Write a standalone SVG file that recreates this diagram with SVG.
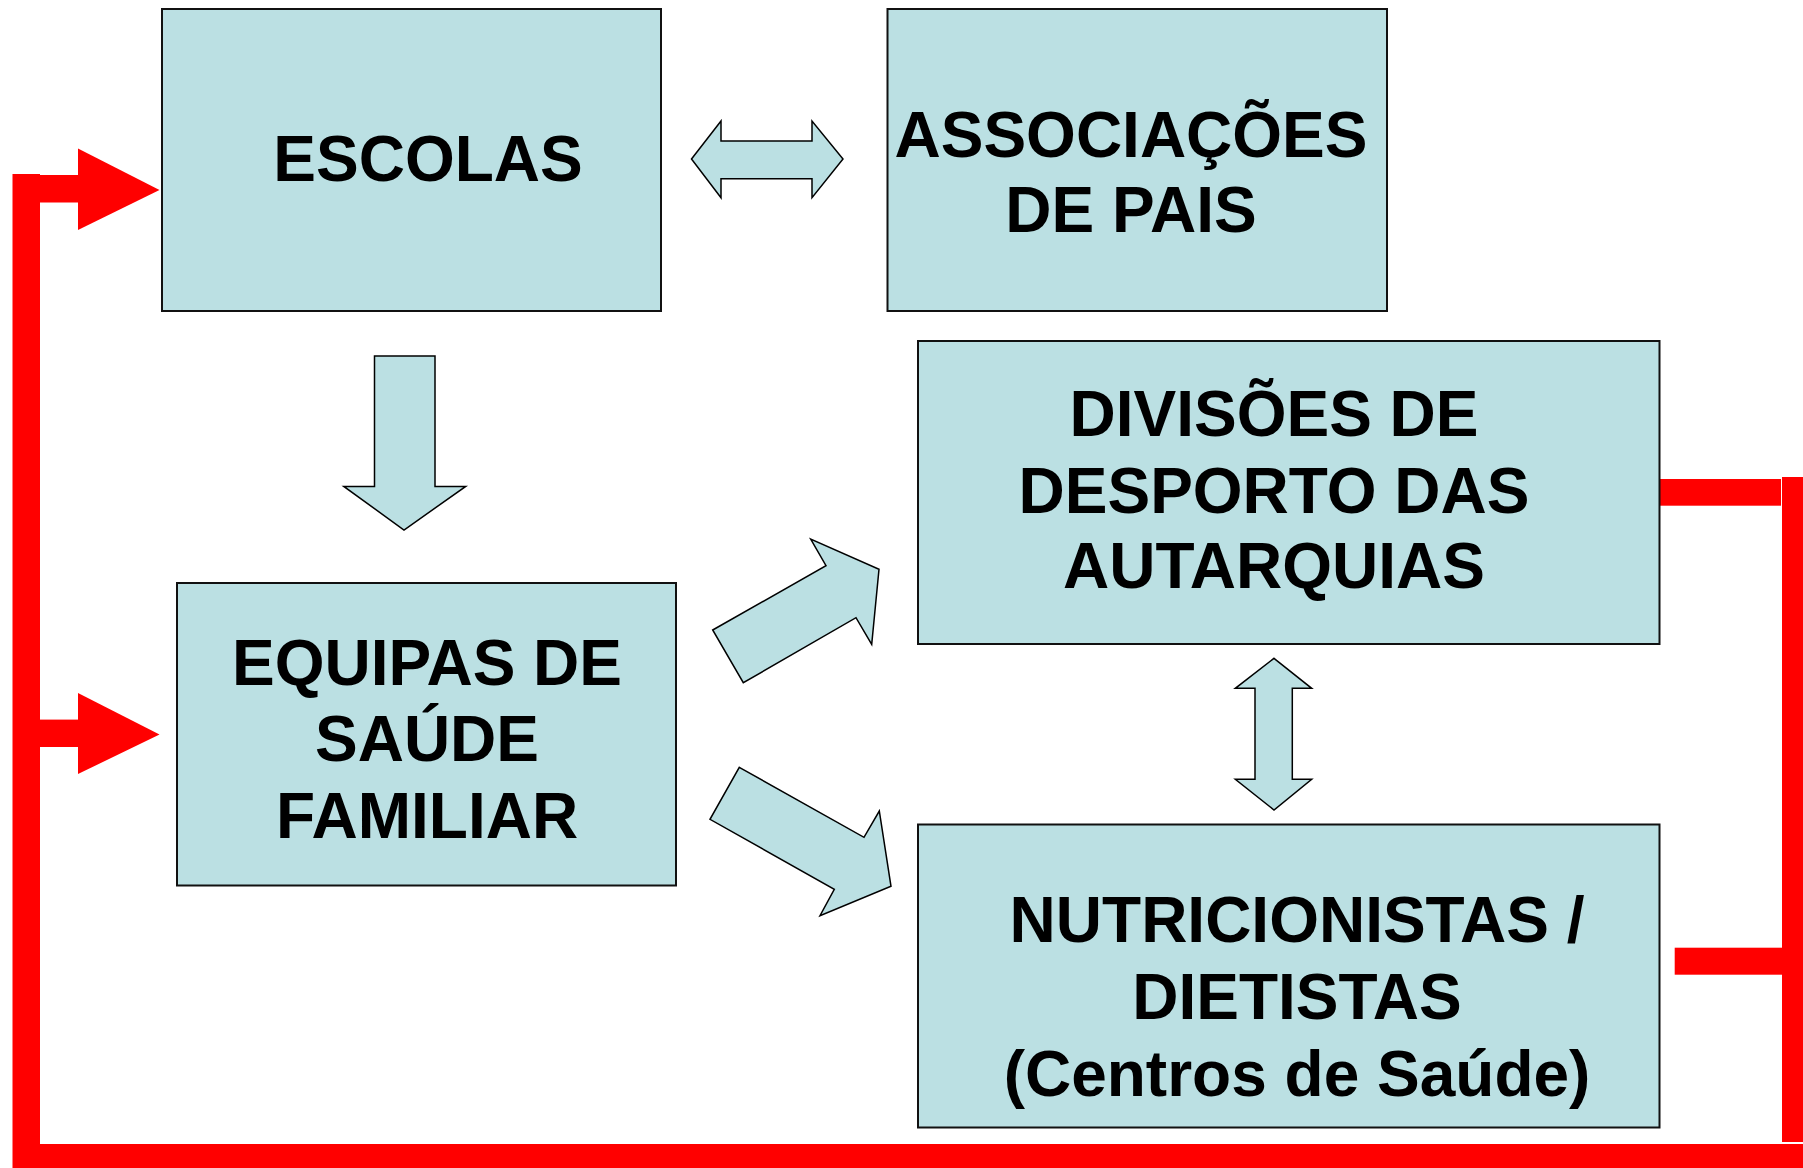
<svg xmlns="http://www.w3.org/2000/svg" width="1803" height="1168" viewBox="0 0 1803 1168">
  <style>
    .box { fill: #BBE0E3; stroke: #111; stroke-width: 2; }
    .blk { fill: #BBE0E3; stroke: #000; stroke-width: 1.5; stroke-linejoin: miter; }
    .red { fill: #FF0000; stroke: none; }
    .lbl { font-family: "Liberation Sans", Arial, sans-serif; font-weight: bold; font-size: 64px; fill: #000; text-anchor: middle; }
  </style>
  <rect width="1803" height="1168" fill="#FFFFFF"/>

  <g id="connectors">
    <!-- block arrows -->
    <polygon class="blk" points="691.5,159 721,121 721,141 812,141 812,121 843,159 812,197.7 812,178.7 721,178.7 721,197.7"/>
    <polygon class="blk" points="374.5,356 435,356 435,486.4 465.7,486.4 404,530 343.8,486.4 374.5,486.4"/>
    <polygon class="blk" points="712.7,630 826,565.7 810.7,539 879,569.3 871.7,644.3 856,617.7 743.3,682.7"/>
    <polygon class="blk" points="739.3,767.3 864,837.3 879.3,811 891,886.3 820,915.7 834.3,889.3 710,819.3"/>
    <polygon class="blk" points="1274,658.3 1311.7,688.3 1292.3,688.3 1292.3,779.3 1311.7,779.3 1274,810 1235.3,779.3 1255,779.3 1255,688.3 1235.3,688.3"/>
    <!-- red feedback loop -->
    <rect class="red" x="1660" y="479" width="121" height="26.7"/>
    <rect class="red" x="1674.7" y="947.7" width="107.3" height="27"/>
    <rect class="red" x="1782" y="477" width="21" height="665"/>
    <rect class="red" x="40" y="1144" width="1763" height="24"/>
    <rect class="red" x="12.5" y="174" width="27.5" height="994"/>
    <rect class="red" x="40" y="175" width="39" height="27.5"/>
    <polygon class="red" points="78,148.5 159.5,190 78,230"/>
    <rect class="red" x="40" y="719.6" width="39" height="27.4"/>
    <polygon class="red" points="78,693 159.5,734.6 78,774"/>
  </g>

  <g id="escolas">
    <rect class="box" x="162" y="9" width="499" height="302"/>
    <text class="lbl" x="428" y="181">ESCOLAS</text>
  </g>

  <g id="associacoes">
    <rect class="box" x="887.5" y="9" width="499.5" height="302"/>
    <text class="lbl" x="1131" y="156.7">ASSOCIAÇÕES</text>
    <text class="lbl" x="1131" y="231.7">DE PAIS</text>
  </g>

  <g id="equipas">
    <rect class="box" x="177" y="583" width="499" height="302.5"/>
    <text class="lbl" x="427" y="684.6">EQUIPAS DE</text>
    <text class="lbl" x="427" y="761.4">SAÚDE</text>
    <text class="lbl" x="427" y="837.5">FAMILIAR</text>
  </g>

  <g id="divisoes">
    <rect class="box" x="918" y="341" width="741.5" height="303"/>
    <text class="lbl" x="1274" y="435.7">DIVISÕES DE</text>
    <text class="lbl" x="1274" y="512.7">DESPORTO DAS</text>
    <text class="lbl" x="1274" y="588.3">AUTARQUIAS</text>
  </g>

  <g id="nutricionistas">
    <rect class="box" x="918" y="824.5" width="741.5" height="303"/>
    <text class="lbl" x="1297" y="942">NUTRICIONISTAS /</text>
    <text class="lbl" x="1297" y="1018.8">DIETISTAS</text>
    <text class="lbl" x="1297" y="1096">(Centros de Saúde)</text>
  </g>
</svg>
